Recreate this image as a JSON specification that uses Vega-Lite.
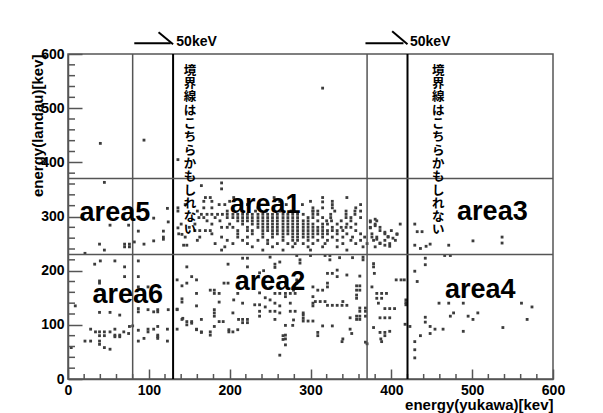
{
  "$schema": "https://vega.github.io/schema/vega-lite/v6.json",
  "width": 485,
  "height": 325,
  "autosize": "none",
  "padding": {"left": 68, "top": 54, "right": 50, "bottom": 34},
  "background": "white",
  "config": {
    "view": {"stroke": "#555", "strokeWidth": 1.5},
    "font": "Liberation Sans"
  },
  "layer": [
    {
      "data": {
        "values": [
          {"yukawa":40,"landau":435},{"yukawa":94,"landau":441},{"yukawa":136,"landau":405},{"yukawa":315,"landau":537},{"yukawa":165,"landau":357},{"yukawa":190,"landau":362},{"yukawa":190,"landau":351},
          {"yukawa":45,"landau":363},{"yukawa":123,"landau":315},{"yukawa":106,"landau":297},{"yukawa":124,"landau":290},{"yukawa":52,"landau":284},{"yukawa":75,"landau":284},{"yukawa":87,"landau":273},{"yukawa":118,"landau":273},{"yukawa":118,"landau":262},{"yukawa":118,"landau":258},{"yukawa":106,"landau":255},{"yukawa":94,"landau":249},{"yukawa":82,"landau":253},{"yukawa":70,"landau":249},{"yukawa":70,"landau":244},{"yukawa":76,"landau":249},{"yukawa":76,"landau":244},{"yukawa":39,"landau":249},{"yukawa":45,"landau":238},{"yukawa":21,"landau":232},
          {"yukawa":141,"landau":267},{"yukawa":136,"landau":279},{"yukawa":143,"landau":247},{"yukawa":147,"landau":247},
          {"yukawa":170,"landau":335},{"yukawa":176,"landau":335},{"yukawa":205,"landau":335},{"yukawa":255,"landau":335},{"yukawa":315,"landau":335},{"yukawa":345,"landau":335},
          {"yukawa":168,"landau":328},{"yukawa":178,"landau":328},{"yukawa":200,"landau":328},{"yukawa":262,"landau":328},{"yukawa":300,"landau":328},{"yukawa":327,"landau":328},
          {"yukawa":145,"landau":322},{"yukawa":187,"landau":322},{"yukawa":194,"landau":322},{"yukawa":222,"landau":322},{"yukawa":270,"landau":322},{"yukawa":290,"landau":322},{"yukawa":327,"landau":322},{"yukawa":362,"landau":322},
          {"yukawa":136,"landau":316},{"yukawa":168,"landau":316},{"yukawa":178,"landau":316},{"yukawa":235,"landau":316},{"yukawa":303,"landau":316},{"yukawa":315,"landau":316},{"yukawa":356,"landau":316},
          {"yukawa":136,"landau":310},{"yukawa":160,"landau":310},{"yukawa":197,"landau":310},{"yukawa":232,"landau":310},{"yukawa":245,"landau":310},{"yukawa":262,"landau":310},{"yukawa":276,"landau":310},{"yukawa":303,"landau":310},{"yukawa":330,"landau":310},{"yukawa":344,"landau":310},{"yukawa":362,"landau":310},
          {"yukawa":165,"landau":304},{"yukawa":172,"landau":304},{"yukawa":178,"landau":304},{"yukawa":185,"landau":304},{"yukawa":191,"landau":304},{"yukawa":197,"landau":304},{"yukawa":204,"landau":304},{"yukawa":210,"landau":304},{"yukawa":216,"landau":304},{"yukawa":222,"landau":304},{"yukawa":228,"landau":304},{"yukawa":235,"landau":304},{"yukawa":241,"landau":304},{"yukawa":247,"landau":304},{"yukawa":253,"landau":304},{"yukawa":259,"landau":304},{"yukawa":266,"landau":304},{"yukawa":272,"landau":304},{"yukawa":278,"landau":304},{"yukawa":284,"landau":304},{"yukawa":291,"landau":304},{"yukawa":303,"landau":304},{"yukawa":309,"landau":304},{"yukawa":325,"landau":304},{"yukawa":344,"landau":304},{"yukawa":355,"landau":304},
          {"yukawa":162,"landau":298},{"yukawa":168,"landau":298},{"yukawa":182,"landau":298},{"yukawa":197,"landau":298},{"yukawa":204,"landau":298},{"yukawa":210,"landau":298},{"yukawa":216,"landau":298},{"yukawa":222,"landau":298},{"yukawa":228,"landau":298},{"yukawa":235,"landau":298},{"yukawa":241,"landau":298},{"yukawa":247,"landau":298},{"yukawa":253,"landau":298},{"yukawa":259,"landau":298},{"yukawa":266,"landau":298},{"yukawa":272,"landau":298},{"yukawa":278,"landau":298},{"yukawa":284,"landau":298},{"yukawa":297,"landau":298},{"yukawa":303,"landau":298},{"yukawa":315,"landau":298},{"yukawa":344,"landau":298},{"yukawa":350,"landau":298},
          {"yukawa":172,"landau":292},{"yukawa":188,"landau":292},{"yukawa":210,"landau":292},{"yukawa":216,"landau":292},{"yukawa":222,"landau":292},{"yukawa":228,"landau":292},{"yukawa":235,"landau":292},{"yukawa":241,"landau":292},{"yukawa":247,"landau":292},{"yukawa":253,"landau":292},{"yukawa":259,"landau":292},{"yukawa":266,"landau":292},{"yukawa":272,"landau":292},{"yukawa":278,"landau":292},{"yukawa":284,"landau":292},{"yukawa":291,"landau":292},{"yukawa":297,"landau":292},{"yukawa":309,"landau":292},{"yukawa":320,"landau":292},{"yukawa":326,"landau":292},{"yukawa":338,"landau":292},{"yukawa":374,"landau":292},{"yukawa":382,"landau":292},
          {"yukawa":140,"landau":286},{"yukawa":157,"landau":286},{"yukawa":178,"landau":286},{"yukawa":200,"landau":286},{"yukawa":216,"landau":286},{"yukawa":228,"landau":286},{"yukawa":235,"landau":286},{"yukawa":241,"landau":286},{"yukawa":247,"landau":286},{"yukawa":253,"landau":286},{"yukawa":259,"landau":286},{"yukawa":266,"landau":286},{"yukawa":272,"landau":286},{"yukawa":278,"landau":286},{"yukawa":284,"landau":286},{"yukawa":291,"landau":286},{"yukawa":297,"landau":286},{"yukawa":303,"landau":286},{"yukawa":315,"landau":286},{"yukawa":321,"landau":286},{"yukawa":333,"landau":286},{"yukawa":345,"landau":286},{"yukawa":356,"landau":286},{"yukawa":380,"landau":286},{"yukawa":411,"landau":286},
          {"yukawa":150,"landau":280},{"yukawa":190,"landau":280},{"yukawa":197,"landau":280},{"yukawa":204,"landau":280},{"yukawa":222,"landau":280},{"yukawa":235,"landau":280},{"yukawa":241,"landau":280},{"yukawa":247,"landau":280},{"yukawa":253,"landau":280},{"yukawa":259,"landau":280},{"yukawa":266,"landau":280},{"yukawa":272,"landau":280},{"yukawa":278,"landau":280},{"yukawa":284,"landau":280},{"yukawa":291,"landau":280},{"yukawa":297,"landau":280},{"yukawa":303,"landau":280},{"yukawa":309,"landau":280},{"yukawa":315,"landau":280},{"yukawa":327,"landau":280},{"yukawa":338,"landau":280},{"yukawa":344,"landau":280},{"yukawa":350,"landau":280},{"yukawa":374,"landau":280},{"yukawa":386,"landau":280},
          {"yukawa":157,"landau":274},{"yukawa":163,"landau":274},{"yukawa":170,"landau":274},{"yukawa":176,"landau":274},{"yukawa":210,"landau":274},{"yukawa":222,"landau":274},{"yukawa":228,"landau":274},{"yukawa":241,"landau":274},{"yukawa":247,"landau":274},{"yukawa":253,"landau":274},{"yukawa":259,"landau":274},{"yukawa":266,"landau":274},{"yukawa":272,"landau":274},{"yukawa":278,"landau":274},{"yukawa":284,"landau":274},{"yukawa":291,"landau":274},{"yukawa":297,"landau":274},{"yukawa":303,"landau":274},{"yukawa":309,"landau":274},{"yukawa":315,"landau":274},{"yukawa":321,"landau":274},{"yukawa":327,"landau":274},{"yukawa":333,"landau":274},{"yukawa":340,"landau":274},{"yukawa":356,"landau":274},{"yukawa":386,"landau":274},{"yukawa":400,"landau":274},
          {"yukawa":137,"landau":268},{"yukawa":178,"landau":268},{"yukawa":210,"landau":268},{"yukawa":228,"landau":268},{"yukawa":241,"landau":268},{"yukawa":253,"landau":268},{"yukawa":259,"landau":268},{"yukawa":266,"landau":268},{"yukawa":272,"landau":268},{"yukawa":278,"landau":268},{"yukawa":284,"landau":268},{"yukawa":291,"landau":268},{"yukawa":297,"landau":268},{"yukawa":303,"landau":268},{"yukawa":309,"landau":268},{"yukawa":315,"landau":268},{"yukawa":321,"landau":268},{"yukawa":333,"landau":268},{"yukawa":345,"landau":268},{"yukawa":362,"landau":268},{"yukawa":376,"landau":268},{"yukawa":392,"landau":268},{"yukawa":407,"landau":268},
          {"yukawa":145,"landau":262},{"yukawa":163,"landau":262},{"yukawa":190,"landau":262},{"yukawa":210,"landau":262},{"yukawa":222,"landau":262},{"yukawa":241,"landau":262},{"yukawa":253,"landau":262},{"yukawa":266,"landau":262},{"yukawa":278,"landau":262},{"yukawa":284,"landau":262},{"yukawa":291,"landau":262},{"yukawa":297,"landau":262},{"yukawa":303,"landau":262},{"yukawa":315,"landau":262},{"yukawa":327,"landau":262},{"yukawa":340,"landau":262},{"yukawa":352,"landau":262},{"yukawa":367,"landau":262},{"yukawa":382,"landau":262},{"yukawa":396,"landau":262},
          {"yukawa":160,"landau":256},{"yukawa":197,"landau":256},{"yukawa":216,"landau":256},{"yukawa":235,"landau":256},{"yukawa":247,"landau":256},{"yukawa":266,"landau":256},{"yukawa":278,"landau":256},{"yukawa":284,"landau":256},{"yukawa":297,"landau":256},{"yukawa":309,"landau":256},{"yukawa":321,"landau":256},{"yukawa":333,"landau":256},{"yukawa":350,"landau":256},{"yukawa":362,"landau":256},{"yukawa":378,"landau":256},{"yukawa":392,"landau":256},
          {"yukawa":182,"landau":250},{"yukawa":204,"landau":250},{"yukawa":222,"landau":250},{"yukawa":247,"landau":250},{"yukawa":259,"landau":250},{"yukawa":272,"landau":250},{"yukawa":281,"landau":250},{"yukawa":291,"landau":250},{"yukawa":303,"landau":250},{"yukawa":318,"landau":250},{"yukawa":340,"landau":250},{"yukawa":356,"landau":250},{"yukawa":370,"landau":250},{"yukawa":386,"landau":250},{"yukawa":398,"landau":250},
          {"yukawa":194,"landau":244},{"yukawa":228,"landau":244},{"yukawa":253,"landau":244},{"yukawa":278,"landau":244},{"yukawa":297,"landau":244},{"yukawa":315,"landau":244},{"yukawa":333,"landau":244},{"yukawa":365,"landau":244},{"yukawa":380,"landau":244},
          {"yukawa":190,"landau":238},{"yukawa":241,"landau":238},{"yukawa":266,"landau":238},{"yukawa":300,"landau":238},{"yukawa":345,"landau":238},
          {"yukawa":315,"landau":327},{"yukawa":327,"landau":316},{"yukawa":303,"landau":310},{"yukawa":309,"landau":310},{"yukawa":325,"landau":298},{"yukawa":355,"landau":310},{"yukawa":362,"landau":298},{"yukawa":350,"landau":292},
          {"yukawa":374,"landau":290},{"yukawa":380,"landau":295},{"yukawa":374,"landau":279},{"yukawa":380,"landau":283},{"yukawa":392,"landau":271},{"yukawa":396,"landau":263},{"yukawa":402,"landau":260},{"yukawa":407,"landau":267},{"yukawa":376,"landau":262},{"yukawa":382,"landau":258},{"yukawa":386,"landau":251},{"yukawa":392,"landau":247},{"yukawa":398,"landau":245},{"yukawa":405,"landau":256},
          {"yukawa":429,"landau":286},{"yukawa":432,"landau":272},{"yukawa":438,"landau":272},{"yukawa":471,"landau":247},{"yukawa":501,"landau":255},{"yukawa":537,"landau":262},{"yukawa":537,"landau":251},{"yukawa":429,"landau":247},{"yukawa":436,"landau":241},{"yukawa":443,"landau":245},{"yukawa":448,"landau":249},
          {"yukawa":147,"landau":207},{"yukawa":135,"landau":183},{"yukawa":141,"landau":172},{"yukawa":147,"landau":177},{"yukawa":153,"landau":189},{"yukawa":159,"landau":183},{"yukawa":159,"landau":158},{"yukawa":141,"landau":148},{"yukawa":141,"landau":142},{"yukawa":159,"landau":135},{"yukawa":135,"landau":128},{"yukawa":141,"landau":110},{"yukawa":147,"landau":106},{"yukawa":153,"landau":106},{"yukawa":159,"landau":91},{"yukawa":165,"landau":110},{"yukawa":165,"landau":87},{"yukawa":176,"landau":164},{"yukawa":176,"landau":87},{"yukawa":176,"landau":81},{"yukawa":181,"landau":164},{"yukawa":181,"landau":158},{"yukawa":181,"landau":128},{"yukawa":181,"landau":122},{"yukawa":181,"landau":116},{"yukawa":181,"landau":97},{"yukawa":187,"landau":158},{"yukawa":187,"landau":142},{"yukawa":187,"landau":106},{"yukawa":192,"landau":106},{"yukawa":193,"landau":177},{"yukawa":198,"landau":177},{"yukawa":198,"landau":212},{"yukawa":199,"landau":91},{"yukawa":199,"landau":87},{"yukawa":204,"landau":87},{"yukawa":204,"landau":122},{"yukawa":205,"landau":146},{"yukawa":210,"landau":158},{"yukawa":210,"landau":91},{"yukawa":216,"landau":223},{"yukawa":222,"landau":223},{"yukawa":211,"landau":110},{"yukawa":216,"landau":110},{"yukawa":216,"landau":104},{"yukawa":222,"landau":104},{"yukawa":222,"landau":110},{"yukawa":216,"landau":140},{"yukawa":222,"landau":207},{"yukawa":237,"landau":196},{"yukawa":237,"landau":159},{"yukawa":231,"landau":137},{"yukawa":237,"landau":137},{"yukawa":242,"landau":200},{"yukawa":237,"landau":125},{"yukawa":237,"landau":116},{"yukawa":250,"landau":225},{"yukawa":256,"landau":212},{"yukawa":256,"landau":206},{"yukawa":262,"landau":216},{"yukawa":244,"landau":170},{"yukawa":250,"landau":168},{"yukawa":256,"landau":158},{"yukawa":262,"landau":158},{"yukawa":250,"landau":125},{"yukawa":256,"landau":125},{"yukawa":256,"landau":110},{"yukawa":262,"landau":122},{"yukawa":269,"landau":177},{"yukawa":269,"landau":158},{"yukawa":269,"landau":152},{"yukawa":269,"landau":99},{"yukawa":269,"landau":81},{"yukawa":269,"landau":74},{"yukawa":269,"landau":63},{"yukawa":262,"landau":44},{"yukawa":275,"landau":125},{"yukawa":281,"landau":125},{"yukawa":278,"landau":99},{"yukawa":275,"landau":158},{"yukawa":281,"landau":158},{"yukawa":275,"landau":140},{"yukawa":244,"landau":150},{"yukawa":250,"landau":146},{"yukawa":256,"landau":140},{"yukawa":262,"landau":135},{"yukawa":244,"landau":133},
          {"yukawa":321,"landau":195},{"yukawa":327,"landau":195},{"yukawa":333,"landau":201},{"yukawa":333,"landau":189},{"yukawa":345,"landau":192},{"yukawa":361,"landau":190},{"yukawa":379,"landau":195},{"yukawa":406,"landau":183},{"yukawa":412,"landau":183},{"yukawa":416,"landau":183},{"yukawa":418,"landau":146},{"yukawa":418,"landau":141},{"yukawa":418,"landau":137},{"yukawa":283,"landau":183},{"yukawa":283,"landau":177},{"yukawa":279,"landau":164},{"yukawa":303,"landau":170},{"yukawa":309,"landau":164},{"yukawa":315,"landau":164},{"yukawa":321,"landau":170},{"yukawa":321,"landau":177},{"yukawa":303,"landau":152},{"yukawa":303,"landau":140},{"yukawa":303,"landau":135},{"yukawa":306,"landau":143},{"yukawa":312,"landau":143},{"yukawa":318,"landau":143},{"yukawa":321,"landau":136},{"yukawa":327,"landau":136},{"yukawa":333,"landau":136},{"yukawa":339,"landau":136},{"yukawa":340,"landau":143},{"yukawa":345,"landau":136},{"yukawa":357,"landau":172},{"yukawa":357,"landau":164},{"yukawa":357,"landau":155},{"yukawa":357,"landau":149},{"yukawa":361,"landau":172},{"yukawa":361,"landau":164},{"yukawa":376,"landau":170},{"yukawa":382,"landau":158},{"yukawa":382,"landau":149},{"yukawa":388,"landau":158},{"yukawa":388,"landau":149},{"yukawa":394,"landau":158},{"yukawa":384,"landau":140},{"yukawa":392,"landau":130},{"yukawa":398,"landau":130},{"yukawa":404,"landau":130},{"yukawa":368,"landau":131},{"yukawa":368,"landau":125},{"yukawa":368,"landau":116},{"yukawa":361,"landau":131},{"yukawa":361,"landau":125},{"yukawa":361,"landau":116},{"yukawa":361,"landau":110},{"yukawa":357,"landau":116},{"yukawa":357,"landau":110},{"yukawa":386,"landau":113},{"yukawa":392,"landau":113},{"yukawa":398,"landau":113},{"yukawa":378,"landau":95},{"yukawa":349,"landau":113},{"yukawa":327,"landau":98},{"yukawa":315,"landau":98},{"yukawa":309,"landau":86},{"yukawa":349,"landau":92},{"yukawa":340,"landau":74},{"yukawa":368,"landau":68},{"yukawa":386,"landau":86},{"yukawa":392,"landau":86},{"yukawa":291,"landau":122},{"yukawa":291,"landau":118},{"yukawa":291,"landau":112},{"yukawa":291,"landau":107},{"yukawa":297,"landau":107},{"yukawa":303,"landau":107},{"yukawa":279,"landau":109},{"yukawa":429,"landau":54},{"yukawa":387,"landau":74},
          {"yukawa":283,"landau":228},{"yukawa":287,"landau":220},{"yukawa":300,"landau":228},{"yukawa":318,"landau":228},{"yukawa":324,"landau":228},{"yukawa":324,"landau":220},{"yukawa":336,"landau":224},{"yukawa":352,"landau":224},{"yukawa":365,"landau":220},{"yukawa":378,"landau":213},{"yukawa":378,"landau":207},{"yukawa":287,"landau":214},{"yukawa":365,"landau":225},
          {"yukawa":339,"landau":69},{"yukawa":370,"landau":65},{"yukawa":388,"landau":69},{"yukawa":392,"landau":80},{"yukawa":398,"landau":88},{"yukawa":266,"landau":80},{"yukawa":266,"landau":73},{"yukawa":309,"landau":80},{"yukawa":351,"landau":84},
          {"yukawa":417,"landau":101},{"yukawa":423,"landau":97},{"yukawa":429,"landau":69},{"yukawa":429,"landau":39},{"yukawa":436,"landau":80},{"yukawa":448,"landau":84},{"yukawa":448,"landau":97},{"yukawa":442,"landau":114},{"yukawa":442,"landau":105},{"yukawa":454,"landau":92},{"yukawa":464,"landau":92},{"yukawa":489,"landau":88},{"yukawa":459,"landau":140},{"yukawa":471,"landau":140},{"yukawa":489,"landau":140},{"yukawa":473,"landau":116},{"yukawa":477,"landau":122},{"yukawa":495,"landau":116},{"yukawa":501,"landau":110},{"yukawa":507,"landau":122},{"yukawa":538,"landau":95},{"yukawa":561,"landau":140},{"yukawa":574,"landau":133},{"yukawa":568,"landau":110},
          {"yukawa":442,"landau":223},{"yukawa":442,"landau":211},{"yukawa":466,"landau":228},{"yukawa":473,"landau":228},{"yukawa":429,"landau":199},{"yukawa":432,"landau":180},
          {"yukawa":135,"landau":129},{"yukawa":142,"landau":112},{"yukawa":135,"landau":92},{"yukawa":147,"landau":100},{"yukawa":153,"landau":103},{"yukawa":159,"landau":92},{"yukawa":165,"landau":86},
          {"yukawa":33,"landau":212},{"yukawa":40,"landau":218},{"yukawa":58,"landau":218},{"yukawa":70,"landau":207},{"yukawa":87,"landau":218},{"yukawa":70,"landau":189},{"yukawa":39,"landau":181},{"yukawa":39,"landau":177},{"yukawa":87,"landau":189},{"yukawa":87,"landau":170},{"yukawa":99,"landau":170},{"yukawa":9,"landau":135},{"yukawa":39,"landau":123},{"yukawa":52,"landau":123},{"yukawa":64,"landau":118},{"yukawa":87,"landau":130},{"yukawa":87,"landau":124},{"yukawa":99,"landau":128},{"yukawa":106,"landau":124},{"yukawa":111,"landau":128},{"yukawa":111,"landau":124},{"yukawa":124,"landau":128},{"yukawa":80,"landau":98},{"yukawa":87,"landau":90},{"yukawa":28,"landau":92},{"yukawa":34,"landau":87},{"yukawa":39,"landau":87},{"yukawa":45,"landau":87},{"yukawa":52,"landau":87},{"yukawa":58,"landau":92},{"yukawa":69,"landau":87},{"yukawa":76,"landau":97},{"yukawa":99,"landau":92},{"yukawa":99,"landau":87},{"yukawa":106,"landau":92},{"yukawa":111,"landau":97},{"yukawa":123,"landau":92},{"yukawa":39,"landau":80},{"yukawa":45,"landau":80},{"yukawa":58,"landau":81},{"yukawa":58,"landau":78},{"yukawa":64,"landau":81},{"yukawa":64,"landau":78},{"yukawa":75,"landau":84},{"yukawa":111,"landau":81},{"yukawa":111,"landau":78},{"yukawa":21,"landau":70},{"yukawa":28,"landau":70},{"yukawa":39,"landau":70},{"yukawa":4,"landau":58},{"yukawa":39,"landau":64},{"yukawa":45,"landau":58},{"yukawa":52,"landau":55},{"yukawa":87,"landau":70},{"yukawa":94,"landau":75},{"yukawa":111,"landau":75},{"yukawa":123,"landau":70}
        ]
      },
      "mark": {"type": "square", "size": 8, "color": "#3c3c3c", "opacity": 1},
      "encoding": {
        "x": {
          "field": "yukawa", "type": "quantitative",
          "scale": {"domain": [0, 600], "nice": false, "zero": false},
          "axis": {
            "title": "energy(yukawa)[kev]",
            "values": [0, 100, 200, 300, 400, 500, 600],
            "tickSize": -10,
            "tickColor": "#555", "tickWidth": 1.5,
            "domainColor": "#555", "domainWidth": 1.5,
            "grid": false,
            "labelFont": "Liberation Sans", "labelFontSize": 14, "labelFontWeight": "bold", "labelColor": "#000",
            "labelPadding": 14, "labelOverlap": false, "labelFlush": false,
            "titleFont": "Liberation Sans", "titleFontSize": 15, "titleFontWeight": "bold", "titleColor": "#000",
            "titleAnchor": "end", "titlePadding": 0
          }
        },
        "y": {
          "field": "landau", "type": "quantitative",
          "scale": {"domain": [0, 600], "nice": false, "zero": false},
          "axis": {
            "title": "energy(landau)[kev]",
            "values": [0, 100, 200, 300, 400, 500, 600],
            "tickSize": -14,
            "tickColor": "#555", "tickWidth": 1.5,
            "domainColor": "#555", "domainWidth": 1.5,
            "grid": false,
            "labelFont": "Liberation Sans", "labelFontSize": 14, "labelFontWeight": "bold", "labelColor": "#000",
            "labelPadding": 18, "labelOverlap": false, "labelFlush": false,
            "titleFont": "Liberation Sans", "titleFontSize": 15, "titleFontWeight": "bold", "titleColor": "#000",
            "titleAnchor": "end", "titlePadding": -5
          }
        }
      }
    },
    {
      "data": {
        "values": [
          {"yukawa": 20}, {"yukawa": 40}, {"yukawa": 60}, {"yukawa": 80}, {"yukawa": 120}, {"yukawa": 140}, {"yukawa": 160}, {"yukawa": 180},
          {"yukawa": 220}, {"yukawa": 240}, {"yukawa": 260}, {"yukawa": 280}, {"yukawa": 320}, {"yukawa": 340}, {"yukawa": 360}, {"yukawa": 380},
          {"yukawa": 420}, {"yukawa": 440}, {"yukawa": 460}, {"yukawa": 480}, {"yukawa": 520}, {"yukawa": 540}, {"yukawa": 560}, {"yukawa": 580}
        ]
      },
      "mark": {"type": "tick", "orient": "vertical", "color": "#555", "size": 5, "thickness": 1.5, "yOffset": -2.5, "opacity": 1},
      "encoding": {
        "x": {"field": "yukawa", "type": "quantitative"},
        "y": {"datum": 0, "type": "quantitative"}
      }
    },
    {
      "data": {
        "values": [
          {"landau": 20}, {"landau": 40}, {"landau": 60}, {"landau": 80}, {"landau": 120}, {"landau": 140}, {"landau": 160}, {"landau": 180},
          {"landau": 220}, {"landau": 240}, {"landau": 260}, {"landau": 280}, {"landau": 320}, {"landau": 340}, {"landau": 360}, {"landau": 380},
          {"landau": 420}, {"landau": 440}, {"landau": 460}, {"landau": 480}, {"landau": 520}, {"landau": 540}, {"landau": 560}, {"landau": 580}
        ]
      },
      "mark": {"type": "tick", "orient": "horizontal", "color": "#555", "size": 7, "thickness": 1.5, "xOffset": 3.5, "opacity": 1},
      "encoding": {
        "y": {"field": "landau", "type": "quantitative"},
        "x": {"datum": 0, "type": "quantitative"}
      }
    },
    {
      "data": {"values": [{"yukawa": 80}, {"yukawa": 370}]},
      "mark": {"type": "rule", "color": "#555", "strokeWidth": 1.5},
      "encoding": {"x": {"field": "yukawa", "type": "quantitative"}}
    },
    {
      "data": {"values": [{"yukawa": 130}, {"yukawa": 420}]},
      "mark": {"type": "rule", "color": "#000", "strokeWidth": 2},
      "encoding": {"x": {"field": "yukawa", "type": "quantitative"}}
    },
    {
      "data": {"values": [{"landau": 230}, {"landau": 370}]},
      "mark": {"type": "rule", "color": "#555", "strokeWidth": 1.5},
      "encoding": {"y": {"field": "landau", "type": "quantitative"}}
    },
    {
      "data": {
        "values": [
          {"yukawa": 82, "landau": 620, "yukawa2": 127, "landau2": 620},
          {"yukawa": 112, "landau": 640, "yukawa2": 130, "landau2": 618},
          {"yukawa": 368, "landau": 620, "yukawa2": 415, "landau2": 620},
          {"yukawa": 401, "landau": 642, "yukawa2": 420, "landau2": 618}
        ]
      },
      "mark": {"type": "rule", "color": "#000", "strokeWidth": 2, "clip": false},
      "encoding": {
        "x": {"field": "yukawa", "type": "quantitative"},
        "x2": {"field": "yukawa2"},
        "y": {"field": "landau", "type": "quantitative"},
        "y2": {"field": "landau2"}
      }
    },
    {
      "data": {"values": [{"yukawa": 134, "landau": 622, "note": "50keV"}, {"yukawa": 423, "landau": 622, "note": "50keV"}]},
      "mark": {"type": "text", "align": "left", "baseline": "middle", "font": "Liberation Sans", "fontSize": 14, "fontWeight": "bold", "color": "#000", "clip": false},
      "encoding": {
        "x": {"field": "yukawa", "type": "quantitative"},
        "y": {"field": "landau", "type": "quantitative"},
        "text": {"field": "note"}
      }
    },
    {
      "data": {
        "values": [
          {"yukawa": 151, "landau": 580, "note": "境\n界\n線\nは\nこ\nち\nら\nか\nも\nし\nれ\nな\nい"},
          {"yukawa": 458, "landau": 580, "note": "境\n界\n線\nは\nこ\nち\nら\nか\nも\nし\nれ\nな\nい"}
        ]
      },
      "mark": {"type": "text", "align": "center", "baseline": "top", "lineBreak": "\n", "lineHeight": 13.3, "font": "Noto Sans CJK JP", "fontSize": 12.5, "fontWeight": "bold", "color": "#000"},
      "encoding": {
        "x": {"field": "yukawa", "type": "quantitative"},
        "y": {"field": "landau", "type": "quantitative"},
        "text": {"field": "note"}
      }
    },
    {
      "data": {
        "values": [
          {"yukawa": 244, "landau": 306, "area": "area1"},
          {"yukawa": 250, "landau": 164, "area": "area2"},
          {"yukawa": 525, "landau": 293, "area": "area3"},
          {"yukawa": 510, "landau": 150, "area": "area4"},
          {"yukawa": 58, "landau": 292, "area": "area5"},
          {"yukawa": 74, "landau": 140, "area": "area6"}
        ]
      },
      "mark": {"type": "text", "align": "center", "baseline": "alphabetic", "font": "Liberation Sans", "fontSize": 27, "fontWeight": "bold", "color": "#000"},
      "encoding": {
        "x": {"field": "yukawa", "type": "quantitative"},
        "y": {"field": "landau", "type": "quantitative"},
        "text": {"field": "area"}
      }
    }
  ]
}
